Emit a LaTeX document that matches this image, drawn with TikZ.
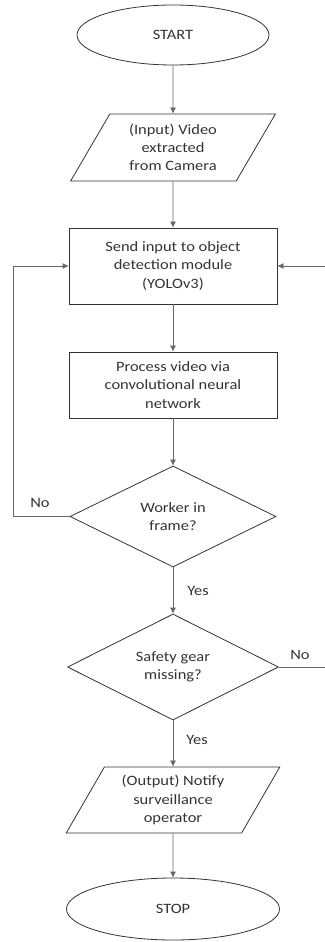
\documentclass[tikz,border=0pt]{standalone}
\usepackage{fontspec}
\setmainfont{Carlito}[FakeStretch=1.15]
\usetikzlibrary{shapes.geometric,arrows.meta}

\tikzset{
  outline/.style={draw=black!80, line width=0.8pt, inner sep=0pt, align=center, text=black!80},
  terminal/.style={outline, ellipse},
  process/.style={outline, rectangle, minimum width=208pt},
  inout/.style={outline, trapezium, trapezium left angle=60, trapezium right angle=120,
    trapezium stretches=true},
  decision/.style={outline, diamond},
  connector/.style={draw=black!60, line width=0.8pt, -{Latex[length=6pt,width=6pt]}},
  answer/.style={inner sep=0pt, text=black!80},
}

\begin{document}
\begin{tikzpicture}[x=1pt, y=-1pt, font=\fontsize{14.3}{18.3}\selectfont]
    \useasboundingbox (0,0) rectangle (324,942);

    % Main column
    \node[terminal, minimum width=192pt, minimum height=60pt] (start) at (173,35) {START};
    \node[inout, minimum width=205pt, minimum height=67pt] (input) at (173,147.5) {(Input) Video\\extracted\\from Camera};
    \node[process, minimum height=76pt] (detect) at (173,266) {Send input to object\\detection module\\(YOLOv3)};
    \node[process, minimum height=66pt] (cnn) at (173,385) {Process video via\\convolutional neural\\network};
    \node[decision, minimum width=206pt, minimum height=101pt] (worker) at (173,516.5) {Worker in\\frame?};
    \node[decision, minimum width=211pt, minimum height=106pt] (gear) at (173,667) {Safety gear\\missing?};
    \node[inout, minimum width=214pt, minimum height=66pt] (notify) at (173,800) {(Output) Notify\\surveillance\\operator};
    \node[terminal, minimum width=213pt, minimum height=62pt] (stop) at (173,909) {STOP};

    % Straight flow
    \draw[connector] (start) -- (input);
    \draw[connector] (input) -- (detect);
    \draw[connector] (detect) -- (cnn);
    \draw[connector] (cnn) -- (worker);
    \draw[connector] (worker) -- (gear);
    \draw[connector] (gear) -- (notify);
    \draw[connector] (notify) -- (stop);

    % Loops back to detection
    \coordinate (backleft) at (13,516.5);
    \coordinate (backright) at (334,667);
    \draw[connector] (worker.west) -- (backleft) |- (detect.west);
    \draw[connector] (gear.east) -- (backright) |- (detect.east);

    % Answers
    \node[answer] (noworker) at (40,503) {No};
    \node[answer] (yesworker) at (198,591) {Yes};
    \node[answer] (nogear) at (300,655) {No};
    \node[answer] (yesgear) at (197,740) {Yes};
\end{tikzpicture}
\end{document}
